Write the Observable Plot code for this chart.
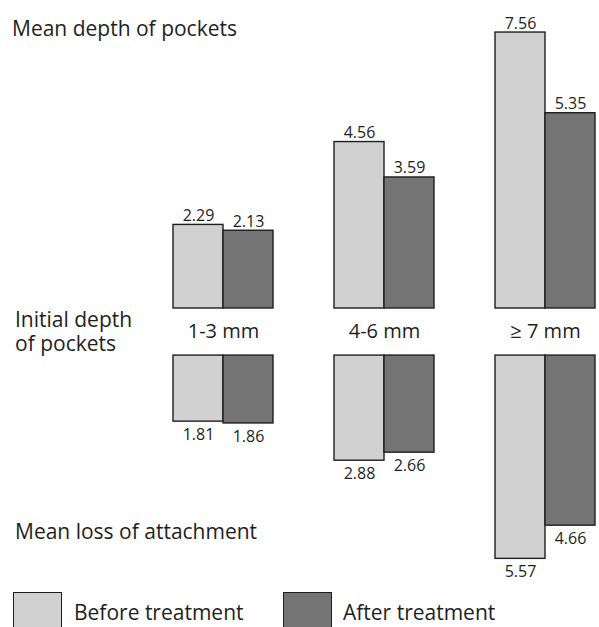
<!DOCTYPE html>
<html><head><meta charset="utf-8">
<script src="https://cdn.jsdelivr.net/npm/d3@7"></script>
<script src="https://cdn.jsdelivr.net/npm/@observablehq/plot@0.6"></script>
<style>
body{margin:0;background:#fff;font-family:"Open Sans",sans-serif;color:#1e1e1e}
#wrap{position:relative;width:599px;height:627px;overflow:hidden;background:#fff}
#wrap svg{position:absolute;left:0;top:0}
.t{position:absolute;font-size:21px;line-height:24px;white-space:pre}
.sw{position:absolute;width:49px;height:40px;border:1.4px solid #1e1e1e;box-sizing:border-box}
.lg{position:absolute;font-size:21px;line-height:24px;white-space:nowrap}
</style></head><body><div id="wrap"></div>
<script>
const categories = ["1-3 mm", "4-6 mm", "≥ 7 mm"];
const series = ["Before treatment", "After treatment"];
const pocketDepthBefore = [2.29, 4.56, 7.56];
const pocketDepthAfter = [2.13, 3.59, 5.35];
const attachmentLossBefore = [1.81, 2.88, 5.57];
const attachmentLossAfter = [1.86, 2.66, 4.66];
const titleTop = "Mean depth of pockets";
const titleMiddle = ["Initial depth", "of pockets"];
const titleBottom = "Mean loss of attachment";
const colors = ["#d1d1d1", "#747474"];

const gap = 1.29; // separation between the two panels, in value units
const rows = [];
categories.forEach((c, i) => {
  rows.push({cat: c, series: series[0], panel: "depth", value: pocketDepthBefore[i], y1: 0, y2: pocketDepthBefore[i]});
  rows.push({cat: c, series: series[1], panel: "depth", value: pocketDepthAfter[i], y1: 0, y2: pocketDepthAfter[i]});
  rows.push({cat: c, series: series[0], panel: "loss", value: attachmentLossBefore[i], y1: -gap, y2: -gap - attachmentLossBefore[i]});
  rows.push({cat: c, series: series[1], panel: "loss", value: attachmentLossAfter[i], y1: -gap, y2: -gap - attachmentLossAfter[i]});
});

const chart = Plot.plot({
  width: 599, height: 627,
  marginLeft: 172, marginRight: 4, marginTop: 0, marginBottom: 0,
  style: {fontFamily: "'Open Sans', sans-serif", color: "#1e1e1e", background: "transparent"},
  fx: {domain: categories, paddingInner: 0.38, paddingOuter: 0, axis: null, label: null},
  x: {domain: series, padding: 0, axis: null},
  y: {domain: [-8.740, 8.438], axis: null},
  color: {domain: series, range: colors},
  marks: [
    Plot.barY(rows, {fx: "cat", x: "series", y1: "y1", y2: "y2", fill: "series", stroke: "#1e1e1e", strokeWidth: 1.4, inset: 0}),
    Plot.text(rows.filter(d => d.panel === "depth"), {fx: "cat", x: "series", y: "y2", text: d => d.value.toFixed(2), lineAnchor: "bottom", dy: -4, fontSize: 16, fill: "#1e1e1e"}),
    Plot.text(rows.filter(d => d.panel === "loss"), {fx: "cat", x: "series", y: "y2", text: d => d.value.toFixed(2), lineAnchor: "top", dy: 7, fontSize: 16, fill: "#1e1e1e"}),
    Plot.text(categories, {fx: d => d, y: -gap / 2, text: d => d, fontSize: 20, fill: "#1e1e1e"})
  ]
});

const wrap = document.getElementById("wrap");
wrap.appendChild(chart);

function addText(cls, txt, left, top) {
  const d = document.createElement("div");
  d.className = cls; d.textContent = txt;
  d.style.left = left + "px"; d.style.top = top + "px";
  wrap.appendChild(d);
}
addText("t", titleTop, 12, 16);
addText("t", titleMiddle.join("\n"), 15, 307);
addText("t", titleBottom, 15, 519);

series.forEach((s, i) => {
  const sw = document.createElement("div");
  sw.className = "sw";
  sw.style.left = (i === 0 ? 13 : 283) + "px";
  sw.style.top = "592px";
  sw.style.background = colors[i];
  wrap.appendChild(sw);
  addText("lg", s, i === 0 ? 74 : 343, 600);
});
</script></body></html>
